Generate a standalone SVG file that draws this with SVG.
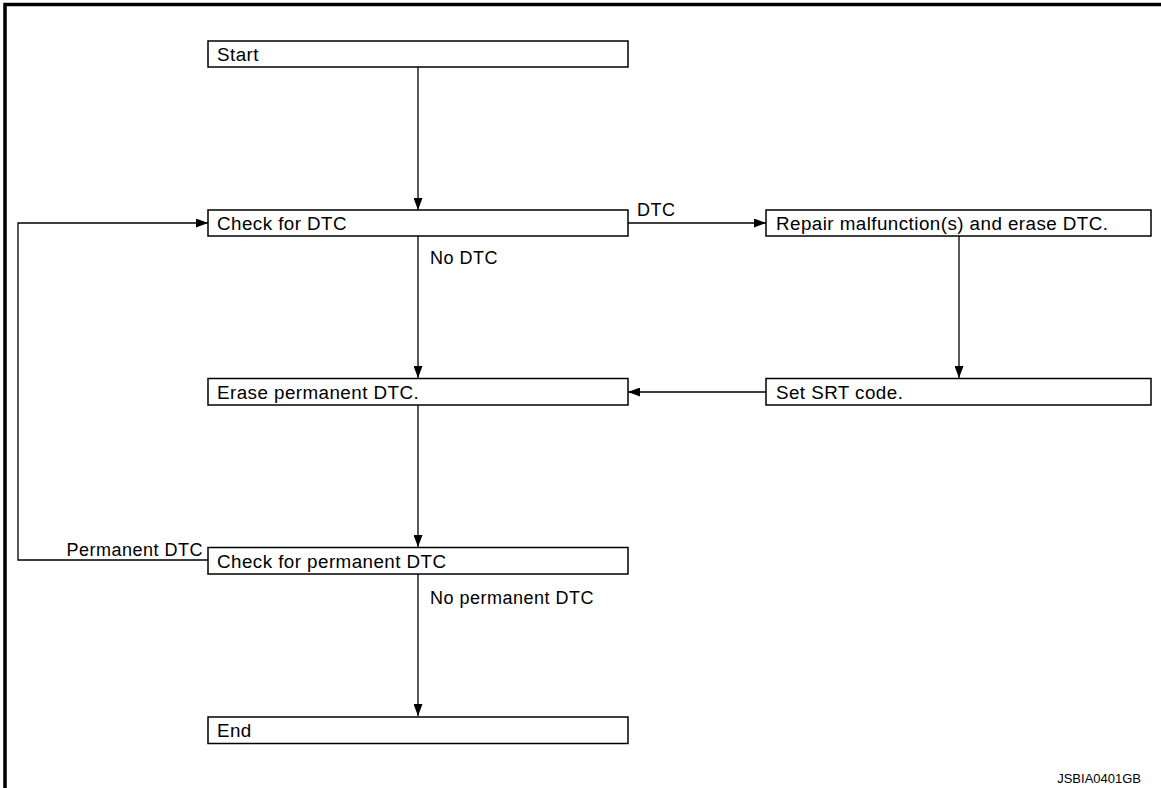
<svg xmlns="http://www.w3.org/2000/svg" width="1161" height="788" viewBox="0 0 1161 788">
<style>
.box{fill:#fff;stroke:#000;stroke-width:1.5}
.t{font-family:"Liberation Sans",Arial,sans-serif;font-size:18.8px;letter-spacing:0.45px;fill:#000}
.lbl{font-family:"Liberation Sans",Arial,sans-serif;font-size:18px;letter-spacing:0.5px;fill:#000}
.ln{fill:none;stroke:#000;stroke-width:1.3}
.frame{fill:none;stroke:#000;stroke-width:3.5}
</style>
<defs>
<marker id="ah" markerWidth="13" markerHeight="9" refX="12" refY="4.5" orient="auto" markerUnits="userSpaceOnUse">
<path d="M0,0 L12,4.5 L0,9 Z" fill="#000"/>
</marker>
</defs>
<rect width="1161" height="788" fill="#fff"/>
<path class="frame" d="M5,788 V4.5 H1161"/>
<g id="connectors">
<path class="ln" d="M418,67 V210" marker-end="url(#ah)"/>
<path class="ln" d="M628,223 H766" marker-end="url(#ah)"/>
<path class="ln" d="M418,236 V378" marker-end="url(#ah)"/>
<path class="ln" d="M959,236 V378" marker-end="url(#ah)"/>
<path class="ln" d="M766,392 H628" marker-end="url(#ah)"/>
<path class="ln" d="M418,405 V547" marker-end="url(#ah)"/>
<path class="ln" d="M418,574 V716" marker-end="url(#ah)"/>
<path class="ln" d="M208,560 H18 V223 H208" marker-end="url(#ah)"/>
<text class="lbl" x="637" y="216">DTC</text>
<text class="lbl" x="430" y="264">No DTC</text>
<text class="lbl" x="203" y="556" text-anchor="end">Permanent DTC</text>
<text class="lbl" x="430" y="604">No permanent DTC</text>
</g>
<g id="start"><rect class="box" x="208" y="41" width="420" height="26"/><text class="t" x="217" y="61">Start</text></g>
<g id="check-dtc"><rect class="box" x="208" y="210" width="420" height="26"/><text class="t" x="217" y="230">Check for DTC</text></g>
<g id="repair"><rect class="box" x="766" y="210" width="385" height="26"/><text class="t" x="776" y="230">Repair malfunction(s) and erase DTC.</text></g>
<g id="erase"><rect class="box" x="208" y="378.5" width="420" height="26.5"/><text class="t" x="217" y="398.5">Erase permanent DTC.</text></g>
<g id="set-srt"><rect class="box" x="766" y="378.5" width="385" height="26.5"/><text class="t" x="776" y="398.5">Set SRT code.</text></g>
<g id="check-perm"><rect class="box" x="208" y="547.5" width="420" height="26.5"/><text class="t" x="217" y="567.5">Check for permanent DTC</text></g>
<g id="end"><rect class="box" x="208" y="717" width="420" height="26.5"/><text class="t" x="217" y="737">End</text></g>
<text x="1141" y="783" text-anchor="end" font-family="'Liberation Sans',Arial,sans-serif" font-size="13" fill="#000">JSBIA0401GB</text>
</svg>
